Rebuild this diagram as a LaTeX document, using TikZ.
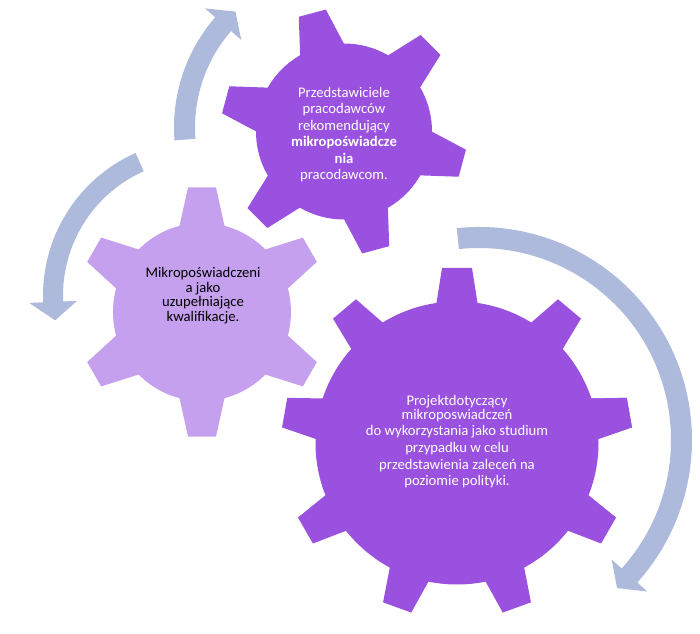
\documentclass[tikz,border=0pt]{standalone}
\usepackage{fontspec}
\setmainfont{Carlito}
\usetikzlibrary{positioning}
\definecolor{gearpurple}{RGB}{155,81,224}
\definecolor{gearlight}{RGB}{197,160,238}
\definecolor{arrowblue}{RGB}{174,186,219}

\begin{document}
\begin{tikzpicture}[x=0.75pt,y=0.75pt, every node/.style={font=\fontsize{11}{12.4}\selectfont,align=center,inner sep=0pt},
  dark/.style={fill=gearpurple}, light/.style={fill=gearlight}, cyc/.style={fill=arrowblue}]
\useasboundingbox (0,0) rectangle (700,633);
\coordinate (ctop) at (344,501.5);
\coordinate (cleft) at (202,321);
\coordinate (cbig) at (457,190);
% circular arrows
\begin{scope}[shift={(342,505.5)}]
  \fill[cyc] (184.4:168) arc[start angle=184.4,end angle=139,radius=168] -- (139:181.5) -- (132.6:157.5) -- (139:133.5)
    -- (139:147) arc[start angle=139,end angle=184.4,radius=147] -- cycle;
\end{scope}
\begin{scope}[shift={(199,337.5)}]
  \fill[cyc] (114:156) arc[start angle=114,end angle=182.5,radius=156] -- (182.5:170) -- (189.8:146) -- (182.5:122)
    -- (182.5:136) arc[start angle=182.5,end angle=114,radius=136] -- cycle;
\end{scope}
\begin{scope}[shift={(479,193)}]
  \fill[cyc] (96:213) arc[start angle=96,end angle=-42,radius=213] -- (-42:226.5) -- (-47:202.5) -- (-42:178.5)
    -- (-42:192) arc[start angle=-42,end angle=96,radius=192] -- cycle;
\end{scope}
% gears
\begin{scope}[shift={(ctop)}]
  \fill[dark] (0,0) circle (88);
  \foreach \a in {45,105,...,345} \fill[dark,rotate=\a] (70,-26.1) -- (122.5,-14) -- (122.5,14) -- (70,26.1) -- cycle;
\end{scope}
\begin{scope}[shift={(cleft)}]
  \fill[light] (0,0) circle (89);
  \foreach \a in {30,90,...,330} \fill[light,rotate=\a] (70,-26.1) -- (124.5,-14) -- (124.5,14) -- (70,26.1) -- cycle;
\end{scope}
\begin{scope}[shift={(cbig)}]
  \fill[dark] (0,0) circle (141.5);
  \foreach \a in {10,50,...,370} \fill[dark,rotate=\a] (125,-22.9) -- (175,-15) -- (175,15) -- (125,22.9) -- cycle;
\end{scope}
% labels
\node[text=white] (ttop) at (344,498.5) {Przedstawiciele\\pracodawców\\rekomendujący\\\textbf{mikropoświadcze}\\\textbf{nia}\\pracodawcom.};
\node[text=black,font=\fontsize{11}{10.9}\selectfont] (tleft) at (203,337.5) {Mikropoświadczeni\\a jako\\uzupełniające\\kwalifikacje.};
\node[text=white,font=\fontsize{11}{12.5}\selectfont] (tbig) at (457,191) {Projektdotyczący\\[-2.5pt]mikroposwiadczeń\\do wykorzystania jako studium\\przypadku w celu\\przedstawienia zaleceń na\\poziomie polityki.};
\end{tikzpicture}
\end{document}
